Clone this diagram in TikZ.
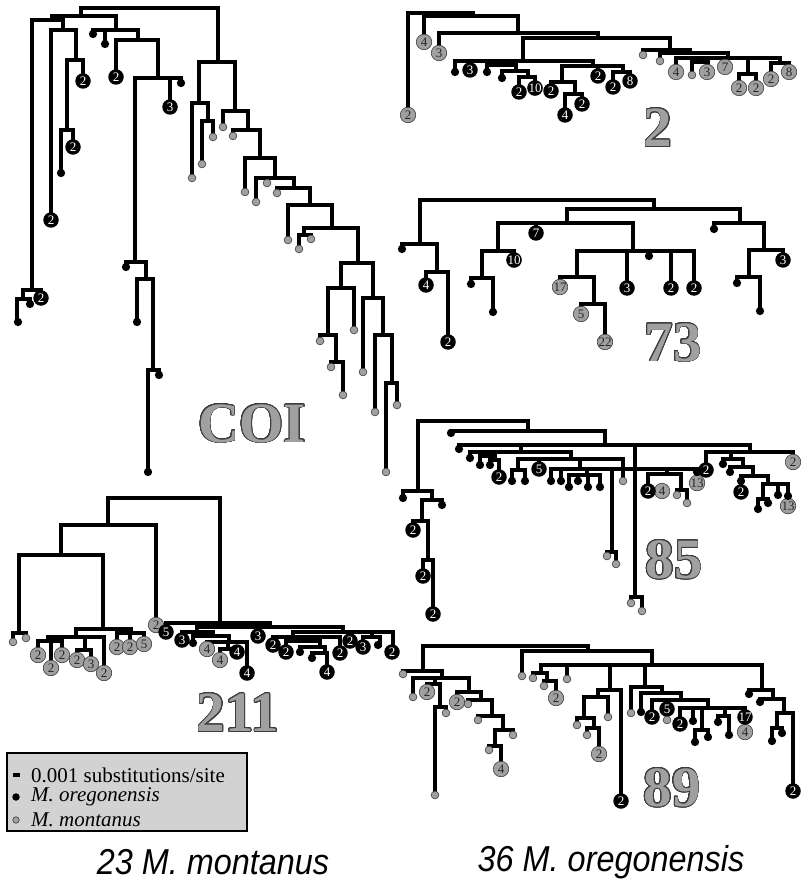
\documentclass[tikz,border=0pt]{standalone}
\usepackage{fontspec}
\setmainfont{Liberation Serif}
\newfontfamily\capfont[FakeStretch=0.9]{Liberation Sans}
\usepackage{contour}
\contourlength{0.7pt}
\contournumber{32}
\definecolor{mgray}{RGB}{160,160,160}
\definecolor{dgray}{RGB}{60,60,60}
\definecolor{lgray}{RGB}{210,210,210}
\tikzset{
  br/.style={line width=3.3pt, line cap=rect, line join=miter},
  bnum/.style={circle, fill=black, text=white, inner sep=0pt, minimum size=15.5pt, font=\fontsize{13}{13}\selectfont},
  gnum/.style={circle, fill=mgray, draw=dgray, line width=0.6pt, text=black!85, inner sep=0pt, minimum size=15.5pt, font=\fontsize{13}{13}\selectfont},
  bdot/.style={circle, fill=black, inner sep=0pt, minimum size=8.3pt},
  gdot/.style={circle, fill=mgray, draw=dgray, line width=0.6pt, inner sep=0pt, minimum size=7.8pt},
  biglab/.style={font=\fontsize{57}{57}\selectfont\bfseries, inner sep=0pt, text=mgray},
  legtext/.style={anchor=west, inner sep=0pt, font=\fontsize{21}{21}\selectfont},
  captext/.style={inner sep=0pt, font=\capfont\itshape\fontsize{36}{36}\selectfont},
}
\begin{document}
\begin{tikzpicture}[x=1pt,y=-1pt]
\useasboundingbox (0,0) rectangle (802,882);
% ---------- branches (bars with two drops) ----------
\foreach \a/\b/\c/\d/\e in {
 81/218/8/16/62, 52/116/16/20/30, 32/63/20/290/30, 23/41/290/299/298, 17/30/299/322/304,
 51/76/30/220/60, 67/83/60/130/81, 61/73/130/173/147, 93/138/30/34/40, 116/158/40/77/78,
 135/181/78/262/83, 126/146/262/267/279, 137/153/279/322/370, 148/159/370/472/375,
 199/235/62/103/111, 192/208/103/178/121, 202/213/121/164/137, 223/248/111/127/130,
 233/260/130/136/158, 245/275/158/192/178, 256/294/178/202/188, 277/310/188/193/205,
 288/332/205/240/228, 304/358/228/235/263, 299/311/235/249/239, 341/373/263/288/298,
 328/354/288/335/330, 320/336/335/341/362, 331/343/362/367/395, 363/383/298/372/335,
 375/392/335/412/383, 386/397/383/472/405,
 408/473/13/115/16, 424/518/16/42/33, 439/598/33/53/38, 523/670/38/61/50, 455/593/61/72/66,
 487/516/65/72/71, 502/528/71/78/77, 519/535/77/92/88, 562/623/66/82/72, 551/575/82/91/94,
 565/582/94/115/104, 613/630/72/87/81, 643/690/50/55/53, 660/728/53/61/58, 676/780/58/72/63,
 692/708/62/75/72, 739/756/74/88/88, 771/789/63/79/72,
 420/654/200/244/209, 402/437/244/249/272, 426/448/272/285/342, 567/740/209/223/223,
 498/633/223/251/251, 482/514/251/278/260, 471/493/278/284/312, 577/694/251/277/288,
 560/594/277/287/304, 581/605/304/314/342, 714/764/223/229/250, 749/783/250/277/260,
 737/760/277/283/311,
 418/528/421/491/431, 403/432/491/498/500, 422/442/500/521/505, 413/428/521/530/560,
 423/433/560/576/614, 451/605/431/433/445, 459/750/445/449/452, 470/571/452/458/459,
 480/495/456/465/460, 490/499/460/465/477, 518/623/459/470/481, 512/525/470/481/481,
 551/697/469/481/483, 569/600/475/487/487, 607/616/552/556/564, 648/681/474/491/490,
 677/687/490/495/503, 631/642/597/603/611, 706/793/452/470/462, 723/743/459/464/467,
 730/753/467/472/476, 741/768/476/491/484, 763/788/484/499/506, 758/768/499/509/503,
 423/588/646/671/651, 403/442/671/674/678, 413/469/678/697/692, 427/440/684/692/707,
 435/446/707/795/713, 457/481/692/702/700, 468/492/700/704/716, 478/503/716/720/730,
 495/513/730/746/735, 489/501/746/750/769, 522/652/651/676/665, 541/762/665/673/690,
 533/547/673/678/681, 544/556/681/686/698, 598/621/690/697/801, 584/608/697/718/717,
 577/594/718/725/728, 587/599/728/735/754, 631/662/687/713/693, 641/681/693/712/700,
 652/708/700/717/708, 680/745/708/724/732, 695/708/730/742/737, 718/729/716/722/735,
 749/773/690/694/699, 760/784/699/702/713, 777/793/713/728/791, 772/782/728/741/733,
 108/220/498/525/623, 61/156/525/555/625, 19/103/555/633/629, 13/26/633/642/638,
 76/131/629/637/633, 48/104/637/641/673, 38/62/641/655/655, 77/91/650/660/664,
 117/144/633/647/644, 166/270/623/632/627, 197/343/627/632/632, 182/213/632/640/636,
 193/229/636/643/642, 207/247/642/649/673, 220/237/649/660/652, 293/393/632/637/652,
 273/340/637/645/653, 286/320/641/652/647, 300/325/647/652/653, 312/327/653/658/672,
 363/380/637/647/645}
 \draw[br] (\a,\d) -- (\a,\c) -- (\b,\c) -- (\b,\e);
% ---------- single drops ----------
\foreach \a/\b/\c in {
 105/30/44, 170/78/107, 267/178/183,
 470/61/70, 501/61/65, 598/66/76, 699/58/62, 725/58/67, 748/58/74,
 536/223/233, 627/251/288, 649/251/256, 671/251/288,
 521/445/452, 635/445/597, 485/452/456, 539/459/469, 580/459/469, 561/469/481, 587/469/475,
 612/469/552, 667/469/474, 578/475/481, 588/475/487, 731/452/459, 778/484/495,
 435/678/684, 567/665/679, 610/665/690, 645/665/687, 667/700/720, 693/708/721, 702/708/730, 725/708/716,
 85/637/650, 51/641/668, 130/633/647, 258/627/636, 228/642/649, 350/632/641, 372/632/637, 303/637/641}
 \draw[br] (\a,\b) -- (\a,\c);
% ---------- numbered grey leaves ----------
\foreach \x/\y/\n in {
 408/115/2, 424/42/4, 439/53/3, 676/72/4, 707/72/3, 725/67/7, 739/88/2, 756/88/2, 771/79/2, 789/72/8,
 560/287/17, 581/314/5, 605/342/22,
 662/491/4, 697/483/13, 793/462/2, 788/506/13,
 427/692/2, 457/702/2, 501/769/4, 556/698/2, 599/754/2, 745/732/4,
 38/655/2, 51/668/2, 62/655/2, 77/660/2, 91/664/3, 104/673/2, 117/647/2, 130/647/2, 144/644/5,
 156/625/2, 207/649/4, 220/660/4}
 \node[gnum] (gn\x-\y) at (\x,\y) {\n};
% ---------- numbered black leaves ----------
\foreach \x/\y/\n in {
 41/298/2, 51/220/2, 83/81/2, 73/147/2, 116/77/2, 170/107/3,
 470/70/3, 519/92/2, 535/88/10, 551/91/2, 565/115/4, 582/104/2, 598/76/2, 613/87/2, 630/81/8,
 426/285/4, 448/342/2, 536/233/7, 514/260/10, 627/288/3, 671/288/2, 694/288/2, 783/260/3,
 413/530/2, 423/576/2, 433/614/2, 499/477/2, 539/469/5, 648/491/2, 706/470/2, 741/492/2,
 621/801/2, 652/717/2, 667/709/5, 680/724/2, 745/717/17, 793/791/2,
 166/632/5, 182/640/3, 237/652/4, 247/673/4, 258/636/3, 273/645/2, 286/652/2, 327/672/4,
 340/653/2, 350/641/2, 363/647/3, 392/652/2}
 \node[bnum] (bn\x-\y) at (\x,\y) {\n};
% ---------- grey dots ----------
\foreach \x/\y in {
 192/178, 202/164, 213/137, 223/127, 233/136, 245/192, 256/202, 267/183, 277/193, 288/240,
 299/249, 311/239, 354/330, 320/341, 331/367, 343/395, 363/372, 375/412, 397/405, 386/472,
 643/55, 660/61, 692/75,
 623/481, 607/556, 616/564, 677/495, 687/503, 631/603, 642/611,
 403/674, 413/697, 435/795, 446/713, 468/704, 478/720, 513/735, 489/750, 522/676, 533/678,
 544/686, 567/679, 577/725, 587/735, 608/717, 631/713, 667/720,
 13/642, 26/638}
 \node[gdot] (gd\x-\y) at (\x,\y) {};
% ---------- black dots ----------
\foreach \x/\y in {
 18/322, 30/304, 61/173, 93/34, 105/44, 181/83, 126/267, 137/322, 159/375, 148/472,
 455/72, 487/72, 502/78,
 402/249, 471/284, 493/312, 649/256, 714/229, 737/283, 760/311,
 403/498, 442/505, 451/433, 459/449, 470/458, 480/465, 490/465, 512/481, 525/481, 551/481,
 561/481, 569/487, 578/481, 588/487, 600/487, 697/472, 723/464, 730/472, 741/481, 778/495,
 788/496, 758/509, 768/503,
 641/712, 693/721, 695/742, 708/737, 718/722, 729/735, 749/694, 760/702, 772/741, 782/733,
 193/643, 300/652, 312/658, 378/645}
 \node[bdot] (bd\x-\y) at (\x,\y) {};
% ---------- big gene labels ----------
\node[biglab] (lCOI) at (252,424) {\contour{dgray}{COI}};
\node[biglab] (l2) at (658,128) {\contour{dgray}{2}};
\node[biglab] (l73) at (673,343) {\contour{dgray}{73}};
\node[biglab] (l85) at (674,560) {\contour{dgray}{85}};
\node[biglab] (l89) at (672,788) {\contour{dgray}{89}};
\node[biglab] (l211) at (238,713) {\contour{dgray}{211}};
% ---------- legend ----------
\draw[fill=lgray, line width=1.2pt] (7,753) rectangle (247,831);
\draw[line width=3.3pt] (13,775) -- (20,775);
\node[bdot, minimum size=7.5pt] (lgb) at (16,797) {};
\node[gdot, minimum size=6.5pt] (lgg) at (16,820) {};
\node[legtext] (t1) at (31,775) {0.001 substitutions/site};
\node[legtext] (t2) at (31,797) {\itshape M. oregonensis};
\node[legtext] (t3) at (31,820) {\itshape M. montanus};
% ---------- captions ----------
\node[captext] (c1) at (213,862) {23 M. montanus};
\node[captext] (c2) at (611,862) {36 M. oregonensis};
\end{tikzpicture}
\end{document}
